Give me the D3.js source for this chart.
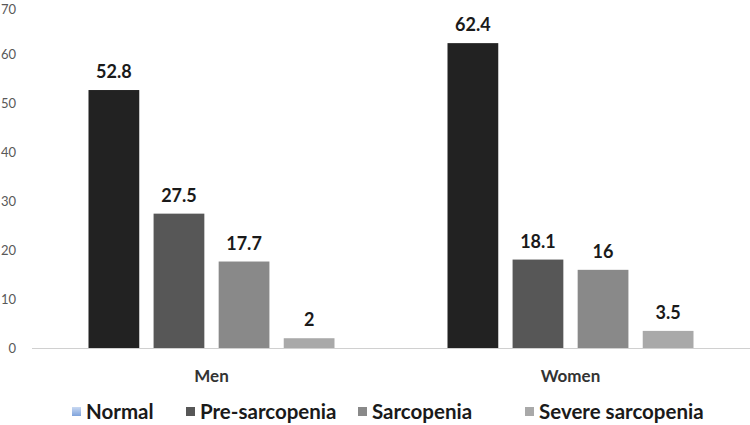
<!DOCTYPE html>
<html><head><meta charset="utf-8">
<script src="https://cdn.jsdelivr.net/npm/d3@7"></script>
<style>body{margin:0;background:#fff}</style>
</head><body>
<svg id="c" width="750" height="425"></svg>
<script>
const categories = ["Men", "Women"];
const seriesNames = ["Normal", "Pre-sarcopenia", "Sarcopenia", "Severe sarcopenia"];
const menValues = [52.8, 27.5, 17.7, 2];
const womenValues = [62.4, 18.1, 16, 3.5];
const yTicks = [0, 10, 20, 30, 40, 50, 60, 70];
const barColors = ["#222222", "#575757", "#898989", "#a9a9a9"];
const legendColors = ["url(#blueGrad)", "#575757", "#898989", "#a9a9a9"];

(function(){
const values = {Men: menValues, Women: womenValues};
const svg = d3.select("#c");
const defs = svg.append("defs");
const g0 = defs.append("linearGradient").attr("id","blueGrad").attr("x1",0).attr("y1",0).attr("x2",0).attr("y2",1);
g0.append("stop").attr("offset","0%").attr("stop-color","#c9d9f2");
g0.append("stop").attr("offset","100%").attr("stop-color","#7fa3dc");

const mLeft = 32, mRight = 750, mTop = 6, mBottom = 348;
const font = "Lato, 'Open Sans', sans-serif";
const y = d3.scaleLinear().domain([0, 70]).range([mBottom, mTop]);
const x0 = d3.scaleBand().domain(categories).range([mLeft, mRight]).paddingInner(0).paddingOuter(0);
const x1 = d3.scaleBand().domain(seriesNames).range([0, 246]).paddingInner(0.22).paddingOuter(0);

svg.append("g").selectAll("text").data(yTicks).join("text")
  .attr("x", 16).attr("y", d => Math.max(y(d), 9)).attr("dy", "0.35em")
  .attr("text-anchor", "end").attr("font-family", font).attr("font-size", 13)
  .attr("fill", "#595959").text(d => d);

svg.append("line").attr("x1", mLeft).attr("x2", mRight).attr("y1", mBottom + 0.5).attr("y2", mBottom + 0.5)
  .attr("stroke", "#d0d0d0").attr("stroke-width", 1);

const groups = svg.append("g").selectAll("g").data(categories).join("g")
  .attr("transform", d => `translate(${x0(d) + x0.bandwidth()/2 - 123},0)`);

groups.selectAll("rect").data(c => values[c].map((v, i) => ({v, s: seriesNames[i], i})))
  .join("rect")
  .attr("x", d => x1(d.s)).attr("width", x1.bandwidth())
  .attr("y", d => y(d.v)).attr("height", d => mBottom - y(d.v))
  .attr("fill", d => barColors[d.i]);

groups.selectAll("text").data(c => values[c].map((v, i) => ({v, s: seriesNames[i], i})))
  .join("text")
  .attr("x", d => x1(d.s) + x1.bandwidth()/2).attr("y", d => y(d.v) - 12)
  .attr("text-anchor", "middle").attr("font-family", font).attr("font-weight", "bold")
  .attr("font-size", 18).attr("fill", "#1a1a1a").text(d => d.v);

svg.append("g").selectAll("text").data(categories).join("text")
  .attr("x", d => x0(d) + x0.bandwidth()/2).attr("y", 382)
  .attr("text-anchor", "middle").attr("font-family", font).attr("font-weight", "bold")
  .attr("font-size", 17).attr("fill", "#333").text(d => d);

const legendX = [72, 186, 358, 525];
const lg = svg.append("g").selectAll("g").data(seriesNames).join("g")
  .attr("transform", (d, i) => `translate(${legendX[i]},419)`);
lg.append("rect").attr("x", 0).attr("y", -12).attr("width", 9).attr("height", 9)
  .attr("fill", (d, i) => legendColors[i]);
lg.append("text").attr("x", 14).attr("y", 0)
  .attr("font-family", font).attr("font-weight", "bold").attr("font-size", 20.5)
  .attr("fill", "#1a1a1a").text(d => d);
})();
</script>
</body></html>
